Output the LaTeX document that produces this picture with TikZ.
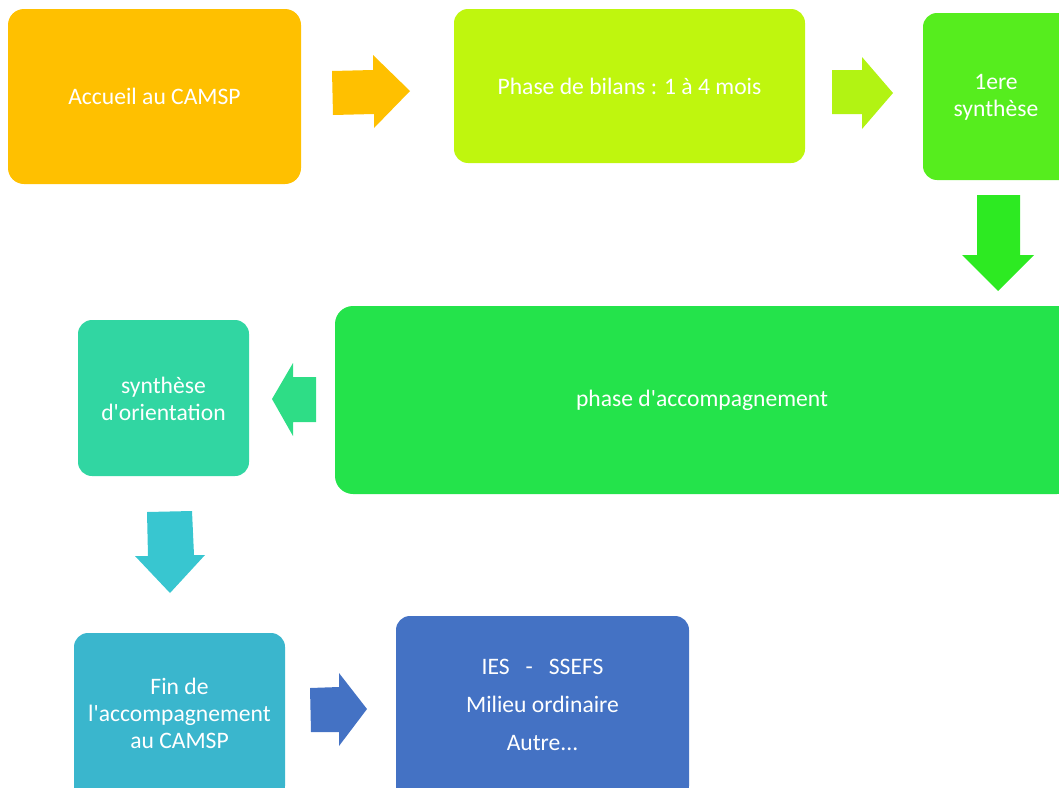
\documentclass[tikz,border=0pt]{standalone}
\usepackage{fontspec}
\setmainfont{Carlito}[Ligatures=TeXOff]
\definecolor{cA}{HTML}{FFC000}
\definecolor{cB}{HTML}{BFF60E}
\definecolor{cC}{HTML}{56ED1E}
\definecolor{cD}{HTML}{24E34B}
\definecolor{cE}{HTML}{31D6A2}
\definecolor{cF}{HTML}{3AB6CD}
\definecolor{cG}{HTML}{4472C4}
\definecolor{aB}{HTML}{B2F313}
\definecolor{aC}{HTML}{2DEA22}
\definecolor{aD}{HTML}{2EDD86}
\definecolor{aE}{HTML}{38C6D0}
\begin{document}
\begin{tikzpicture}[x=1pt,y=-1pt,
  box/.style={rounded corners=15pt, text=white, align=center,
    font=\fontsize{23.6}{27}\selectfont, inner sep=0pt}]
\useasboundingbox (0,0) rectangle (1059,787);
\clip (0,0) rectangle (1059,787);
% boxes
\fill[cA, rounded corners=16pt] (8,9) rectangle (301,184);
\node[box] (acc) at (154.5,96.5) {Accueil au CAMSP};
\fill[cB, rounded corners=14pt] (454,9) rectangle (805,163);
\node[box] (bil) at (629.5,86) {Phase de bilans : 1 à 4 mois};
\fill[cC, rounded corners=14pt] (923,13) rectangle (1075,180);
\node[box] (syn1) at (996,97.5) {1ere\\synthèse};
\fill[cD, rounded corners=18pt] (335,306) rectangle (1075,494);
\node[box] (acp) at (702,400) {phase d'accompagnement};
\fill[cE, rounded corners=14pt] (78,320) rectangle (249,476);
\node[box] (ori) at (163.5,399) {synthèse\\d'orientation};
\fill[cF, rounded corners=14pt] (74,633) rectangle (285,800);
\node[box] (fin) at (179.5,713.5) {Fin de\\l'accompagnement\\au CAMSP};
\fill[cG, rounded corners=14pt] (396,616) rectangle (689,800);
\node[box, font=\fontsize{23.6}{38}\selectfont] (out) at (542.5,704.5) {IES \ \ - \ \ SSEFS\\Milieu ordinaire\\Autre...};
% block arrows
\fill[cA] (332,71) -- (373,70) -- (373,55) -- (410,91) -- (374,128) -- (374,114) -- (333,115) -- cycle;
\fill[aB] (832,70) -- (862,70) -- (862,57) -- (893,93) -- (862,129) -- (862,114) -- (832,114) -- cycle;
\fill[aC] (977,195) -- (1020,195) -- (1020,255) -- (1034,255) -- (998,291) -- (962,255) -- (977,255) -- cycle;
\fill[aD] (316,377) -- (293,377) -- (293,363) -- (272,399) -- (293,436) -- (293,422) -- (316,422) -- cycle;
\fill[aE] (147,512) -- (192,511) -- (194,555) -- (205,555) -- (170,593) -- (135,556) -- (148,556) -- cycle;
\fill[cG] (310,688) -- (339,687) -- (339,673) -- (367,709) -- (339,746) -- (339,732) -- (311,732) -- cycle;
\end{tikzpicture}
\end{document}
